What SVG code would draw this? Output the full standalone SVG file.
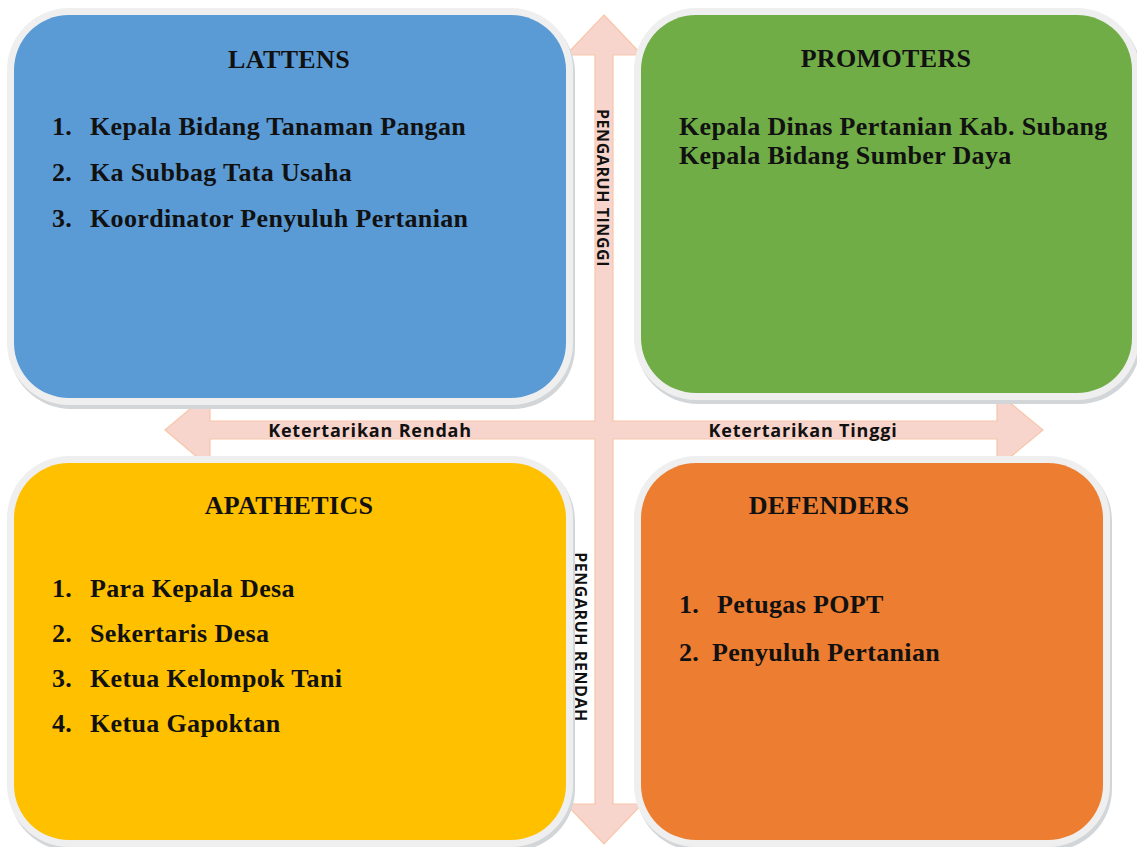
<svg xmlns="http://www.w3.org/2000/svg" width="1137" height="847" viewBox="0 0 1137 847">
<style>
.sh{fill:#d3d6d9}
.bd{fill:#efefef}
.t{font-family:"Liberation Serif","Times New Roman",serif;font-weight:bold;font-size:26px;letter-spacing:0.35px;fill:#111}
.ax{font-family:"Open Sans","DejaVu Sans",sans-serif;font-weight:bold;font-size:18px;letter-spacing:0.8px;fill:#111}
.vx{font-family:"Open Sans","DejaVu Sans",sans-serif;font-weight:bold;font-size:16px;letter-spacing:0.55px;fill:#111}
</style>
<rect width="1137" height="847" fill="#ffffff"/>
<g id="connectors">
<polygon id="axes" points="604,15 642,55 613,55 613,421 997,421 997,392 1043,430 997,468 997,439 613,439 613,804 642,804 604,844 566,804 595,804 595,439 210,439 210,468 165,430 210,392 210,421 595,421 595,55 566,55" fill="#f8d5cc" stroke="#f7c6aa" stroke-width="1.2"/>
<text class="ax" x="370" y="437" text-anchor="middle">Ketertarikan Rendah</text>
<text class="ax" x="803" y="437" text-anchor="middle">Ketertarikan Tinggi</text>
<text class="vx" transform="translate(597,188) rotate(90)" text-anchor="middle">PENGARUH TINGGI</text>
<text class="vx" transform="translate(575,637) rotate(90)" text-anchor="middle">PENGARUH RENDAH</text>
</g>
<g id="lattens">
<rect class="sh" x="9" y="11" width="566" height="398" rx="62"/>
<rect class="bd" x="7" y="8" width="566" height="397" rx="62"/>
<rect x="14" y="15" width="552" height="383" rx="55" fill="#5b9bd5"/>
<text class="t" x="289" y="68" text-anchor="middle">LATTENS</text>
<text class="t" x="52" y="135">1.</text><text class="t" x="90" y="135">Kepala Bidang Tanaman Pangan</text>
<text class="t" x="52" y="181">2.</text><text class="t" x="90" y="181">Ka Subbag Tata Usaha</text>
<text class="t" x="52" y="227">3.</text><text class="t" x="90" y="227">Koordinator Penyuluh Pertanian</text>
</g>
<g id="promoters">
<rect class="sh" x="636" y="11" width="505" height="393" rx="62"/>
<rect class="bd" x="634" y="8" width="505" height="392" rx="62"/>
<rect x="641" y="15" width="491" height="378" rx="55" fill="#70ad47"/>
<text class="t" x="886" y="67" text-anchor="middle">PROMOTERS</text>
<text class="t" x="679" y="135">Kepala Dinas Pertanian Kab. Subang</text>
<text class="t" x="679" y="164">Kepala Bidang Sumber Daya</text>
</g>
<g id="apathetics">
<rect class="sh" x="9" y="459" width="566" height="392" rx="62"/>
<rect class="bd" x="7" y="456" width="566" height="391" rx="62"/>
<rect x="14" y="463" width="552" height="377" rx="55" fill="#ffc000"/>
<text class="t" x="289" y="514" text-anchor="middle">APATHETICS</text>
<text class="t" x="52" y="597">1.</text><text class="t" x="90" y="597">Para Kepala Desa</text>
<text class="t" x="52" y="642">2.</text><text class="t" x="90" y="642">Sekertaris Desa</text>
<text class="t" x="52" y="687">3.</text><text class="t" x="90" y="687">Ketua Kelompok Tani</text>
<text class="t" x="52" y="732">4.</text><text class="t" x="90" y="732">Ketua Gapoktan</text>
</g>
<g id="defenders">
<rect class="sh" x="636" y="459" width="476" height="392" rx="62"/>
<rect class="bd" x="634" y="456" width="476" height="391" rx="62"/>
<rect x="641" y="463" width="462" height="377" rx="55" fill="#ed7d31"/>
<text class="t" x="829" y="514" text-anchor="middle">DEFENDERS</text>
<text class="t" x="679" y="613">1.</text><text class="t" x="717" y="613">Petugas POPT</text>
<text class="t" x="679" y="661">2.</text><text class="t" x="712" y="661">Penyuluh Pertanian</text>
</g>
</svg>
